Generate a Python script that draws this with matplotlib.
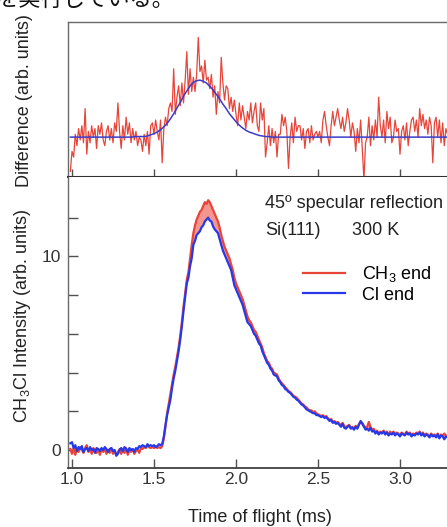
import numpy as np
import matplotlib
matplotlib.use('Agg')
import matplotlib.pyplot as plt

plt.rcParams['font.family'] = ['Liberation Sans', 'DejaVu Sans']
plt.rcParams['mathtext.fontset'] = 'custom'
plt.rcParams['mathtext.rm'] = 'Liberation Sans'
plt.rcParams['mathtext.default'] = 'regular'

# time of flight grid (ms): first sample and sampling step
t_start = 0.99
t_step = 0.01

# CH3Cl intensity, Cl end first (arb. units), one row = 0.1 ms
cl_end = [
    0.35, 0.40, 0.10, 0.25, -0.05, 0.15, 0.05, 0.20, -0.10, 0.05,
    0.10, -0.05, 0.15, 0.00, 0.05, -0.15, 0.10, 0.05, -0.05, 0.10,
    0.00, 0.15, 0.05, -0.10, 0.05, 0.10, -0.05, 0.00, -0.30, -0.20,
    0.00, 0.10, -0.05, 0.15, 0.05, -0.10, 0.10, 0.00, 0.05, -0.10,
    0.10, 0.05, 0.20, 0.15, 0.25, 0.20, 0.15, 0.30, 0.20, 0.25,
    0.20, 0.25, 0.15, 0.20, 0.30, 0.25, 0.30, 0.70, 1.30, 1.80,
    2.20, 2.60, 3.20, 3.70, 4.10, 4.60, 5.10, 5.70, 6.40, 7.20,
    7.90, 8.60, 8.90, 9.50, 9.90, 10.60, 10.80, 11.10, 11.20, 11.30,
    11.50, 11.60, 11.80, 11.90, 12.00, 11.85, 11.80, 11.55, 11.40, 11.30,
    11.20, 10.90, 10.60, 10.30, 10.10, 9.90, 9.70, 9.50, 9.30, 8.90,
    8.50, 8.30, 8.10, 7.90, 7.70, 7.50, 7.20, 6.90, 6.60, 6.50,
    6.40, 6.20, 6.00, 5.90, 5.70, 5.50, 5.40, 5.10, 4.90, 4.70,
    4.50, 4.40, 4.20, 4.10, 3.90, 3.85, 3.80, 3.60, 3.50, 3.35,
    3.30, 3.15, 3.10, 3.00, 2.95, 2.85, 2.75, 2.70, 2.60, 2.55,
    2.45, 2.35, 2.30, 2.20, 2.10, 2.05, 2.00, 1.95, 1.90, 1.90,
    1.80, 1.80, 1.75, 1.70, 1.75, 1.65, 1.70, 1.60, 1.50, 1.55,
    1.40, 1.45, 1.35, 1.40, 1.30, 1.20, 1.35, 1.15, 1.10, 1.20,
    1.25, 1.10, 1.15, 1.05, 1.20, 1.10, 1.30, 1.50, 1.35, 1.20,
    1.05, 1.10, 1.00, 1.15, 0.95, 1.00, 0.85, 0.95, 0.80, 0.90,
    0.85, 0.95, 0.80, 0.90, 0.75, 0.85, 0.80, 0.90, 0.75, 0.85,
    0.80, 0.70, 0.85, 0.80, 0.75, 0.90, 0.80, 0.85, 0.70, 0.80,
    0.75, 0.85, 0.80, 0.90, 0.75, 0.85, 0.70, 0.80, 0.75, 0.65,
    0.80, 0.70, 0.75, 0.65, 0.80, 0.60, 0.75, 0.70, 0.55, 0.70,
    0.65,
]

ch3_end = [
    0.05, -0.20, 0.10, -0.25, 0.05, -0.10, 0.15, 0.00, -0.15, 0.10,
    0.25, -0.10, 0.05, -0.20, 0.10, 0.00, -0.15, 0.05, -0.25, 0.05,
    -0.10, 0.05, -0.20, 0.00, -0.15, 0.10, -0.20, -0.05, -0.25, -0.10,
    0.05, -0.20, 0.00, -0.15, 0.10, -0.25, 0.00, -0.10, 0.05, -0.20,
    -0.05, 0.00, -0.15, 0.10, 0.05, 0.15, 0.10, 0.20, 0.15, 0.10,
    0.15, 0.10, 0.20, 0.10, 0.15, 0.10, 0.20, 0.60, 1.20, 1.90,
    2.40, 2.90, 3.40, 3.90, 4.30, 4.80, 5.30, 5.90, 6.60, 7.40,
    8.10, 8.80, 9.20, 9.90, 10.60, 11.20, 11.60, 11.90, 12.10, 12.30,
    12.40, 12.60, 12.80, 12.70, 12.90, 12.80, 12.60, 12.40, 12.20, 12.00,
    11.80, 11.50, 11.10, 10.80, 10.50, 10.30, 10.10, 9.90, 9.60, 9.30,
    8.90, 8.60, 8.40, 8.20, 8.00, 7.80, 7.50, 7.20, 6.90, 6.70,
    6.60, 6.40, 6.20, 6.10, 5.90, 5.70, 5.50, 5.30, 5.00, 4.80,
    4.60, 4.50, 4.30, 4.20, 4.00, 3.95, 3.90, 3.70, 3.55, 3.45,
    3.35, 3.25, 3.15, 3.05, 3.00, 2.90, 2.80, 2.75, 2.70, 2.60,
    2.50, 2.40, 2.35, 2.25, 2.20, 2.10, 2.05, 2.05, 1.95, 2.00,
    1.90, 1.85, 1.80, 1.75, 1.80, 1.70, 1.75, 1.65, 1.55, 1.60,
    1.45, 1.50, 1.40, 1.45, 1.35, 1.30, 1.40, 1.25, 1.15, 1.25,
    1.30, 1.15, 1.20, 1.10, 1.25, 1.15, 1.35, 1.45, 1.40, 1.25,
    1.15, 1.20, 1.45, 1.20, 1.05, 1.10, 0.90, 1.00, 0.85, 0.95,
    0.90, 1.00, 0.85, 0.95, 0.80, 0.95, 0.85, 0.95, 0.80, 0.90,
    0.85, 0.75, 0.90, 0.85, 0.80, 0.95, 0.85, 0.90, 0.75, 0.85,
    0.80, 0.90, 0.85, 0.95, 0.80, 0.90, 0.75, 0.85, 0.80, 0.70,
    0.85, 0.75, 0.80, 0.70, 0.85, 0.65, 0.80, 0.75, 0.85, 0.75,
    0.70,
]

# difference signal (same time grid)
difference = [
    -0.60, -0.25, -0.35, 0.05, -0.15, 0.15, -0.05, 0.20, -0.10, 0.50,
    -0.30, 0.10, -0.10, 0.20, 0.00, 0.15, -0.20, 0.20, 0.05, 0.25,
    -0.05, -0.15, 0.10, 0.20, -0.05, 0.15, -0.10, 0.25, 0.10, 0.60,
    0.10, -0.20, 0.20, -0.05, 0.35, 0.05, 0.25, -0.10, 0.15, -0.05,
    0.10, -0.15, 0.00, -0.05, -0.25, 0.05, -0.15, 0.10, -0.30, 0.20,
    0.25, 0.05, 0.30, 0.10, -0.05, 0.30, -0.45, 0.15, 0.35, 0.20,
    0.50, 0.60, 0.45, 1.20, 0.40, 0.70, 0.90, 0.55, 0.95, 0.60,
    1.00, 1.50, 0.75, 1.20, 0.80, 1.05, 0.80, 1.10, 1.75, 1.15,
    1.25, 0.95, 1.35, 1.00, 1.05, 0.85, 1.10, 0.70, 0.90, 0.40,
    0.80, 0.60, 1.40, 0.95, 0.65, 0.90, 0.85, 0.50, 0.70, 0.45,
    0.65, 0.40, 0.20, 0.60, 0.30, 0.55, 0.35, 0.15, 0.45, 0.30,
    0.60, 0.25, 0.45, 0.60, 0.20, 0.10, 0.60, 0.30, 0.50, -0.35,
    -0.10, 0.20, -0.15, 0.15, -0.10, 0.10, -0.35, 0.05, 0.05, 0.40,
    0.20, 0.35, 0.10, -0.55, 0.00, 0.25, -0.10, 0.35, 0.10, 0.20,
    0.20, -0.05, 0.15, -0.20, 0.10, 0.15, -0.10, 0.20, -0.05, 0.05,
    0.10, 0.00, 0.10, -0.10, 0.30, 0.45, 0.20, 0.00, -0.15, 0.20,
    0.45, 0.20, 0.35, 0.50, 0.30, 0.15, 0.35, 0.10, 0.25, 0.50,
    0.30, 0.00, 0.25, 0.10, -0.25, 0.15, -0.10, 0.30, -0.20, -0.75,
    -0.10, 0.00, 0.35, -0.15, 0.20, -0.05, 0.30, 0.00, 0.70, 0.20,
    0.00, 0.30, -0.10, 0.45, 0.15, 0.35, -0.10, 0.00, 0.30, 0.10,
    0.15, -0.30, 0.10, 0.20, -0.05, 0.25, -0.15, 0.10, 0.30, 0.35,
    0.10, 0.30, 0.00, 0.50, 0.20, 0.40, 0.15, 0.30, 0.05, 0.35,
    0.20, -0.45, 0.25, 0.35, 0.00, 0.30, -0.10, 0.25, -0.15, 0.15,
    0.05,
]

# fitted peak on the difference
fit_t = [0.99, 1.36, 1.40, 1.44, 1.46, 1.48, 1.50, 1.52, 1.54, 1.56, 1.58,
         1.60, 1.62, 1.64, 1.66, 1.68, 1.70, 1.72, 1.74, 1.76, 1.78, 1.80,
         1.82, 1.84, 1.86, 1.88, 1.90, 1.92, 1.94, 1.96, 1.98, 2.00, 2.02,
         2.04, 2.06, 2.08, 2.10, 2.12, 2.14, 2.16, 2.18, 2.20, 2.22, 3.29]
fit_y = [0.00, 0.00, 0.01, 0.01, 0.02, 0.04, 0.06, 0.09, 0.13, 0.18, 0.24,
         0.32, 0.41, 0.51, 0.61, 0.72, 0.81, 0.90, 0.96, 0.99, 1.00, 0.98,
         0.95, 0.89, 0.83, 0.75, 0.67, 0.58, 0.50, 0.41, 0.34, 0.27, 0.21,
         0.16, 0.12, 0.09, 0.07, 0.05, 0.03, 0.02, 0.01, 0.01, 0.00, 0.00]

t = t_start + t_step * np.arange(len(cl_end))
td = t_start + t_step * np.arange(len(difference))
cl = np.array(cl_end)
ch3 = np.array(ch3_end)

RED = '#e8453a'
BLUE = '#2638e8'
FIT = '#3b3bcc'
SPINE = '#505050'

W, H = 447, 527
fig = plt.figure(figsize=(W / 100, H / 100), dpi=100)

def box(left, top, bottom):
    return [left / W, 1 - bottom / H, 1 - left / W, (bottom - top) / H]

ax1 = fig.add_axes(box(68, 22, 177))
ax2 = fig.add_axes(box(68, 177, 468))

xlim = (0.9756, 3.2866)

# top panel: difference
ax1.plot(td, difference, color=RED, lw=0.9)
ax1.plot(fit_t, fit_y, color=FIT, lw=1.1)
ax1.set_xlim(*xlim)
ax1.set_ylim(-0.70, 2.02)
ax1.set_xticks([1.0, 1.5, 2.0, 2.5, 3.0])
ax1.tick_params(axis='x', direction='in', length=6, width=1, color=SPINE,
                labelbottom=False)
ax1.set_yticks([])
ax1.spines['right'].set_visible(False)
for s in ('left', 'top'):
    ax1.spines[s].set_color('#6a6a6a')
    ax1.spines[s].set_linewidth(1.0)
ax1.spines['bottom'].set_color('#303030')
ax1.spines['bottom'].set_linewidth(1.5)

# bottom panel: intensities
ax2.fill_between(t, cl, ch3, where=ch3 > cl, interpolate=True,
                 color='#f07c72', lw=0, alpha=0.8)
ax2.plot(t, ch3, color=RED, lw=1.6, label='CH$_3$ end')
ax2.plot(t, cl, color=BLUE, lw=1.6, label='Cl end')
ax2.set_xlim(*xlim)
ax2.set_ylim(-0.93, 14.1)
ax2.set_xticks([1.0, 1.5, 2.0, 2.5, 3.0])
ax2.set_xticklabels(['1.0', '1.5', '2.0', '2.5', '3.0'])
ax2.set_yticks([0, 10])
ax2.set_yticks([2, 4, 6, 8, 12], minor=True)
ax2.tick_params(axis='x', direction='in', length=6.5, width=1, color=SPINE,
                labelsize=12.5, pad=3, labelcolor='#333333')
ax2.tick_params(axis='y', which='both', direction='in', length=7, width=1,
                color=SPINE, labelsize=12.5, pad=5, labelcolor='#333333')
ax2.spines['right'].set_visible(False)
ax2.spines['top'].set_visible(False)
ax2.spines['left'].set_color('#6a6a6a')
ax2.spines['left'].set_linewidth(1.0)
ax2.spines['bottom'].set_color('#404040')
ax2.spines['bottom'].set_linewidth(1.3)

ax2.legend(loc='upper left', bbox_to_anchor=(303 / W, 1 - 264 / H),
           bbox_transform=fig.transFigure, frameon=False, fontsize=13,
           handlelength=2.35, handletextpad=0.9, labelspacing=0.15,
           borderpad=0, borderaxespad=0)

txt = dict(fontsize=13, color='#222222', va='center', ha='left')
fig.text(265 / W, 1 - 203 / H, '45º specular reflection', **txt)
fig.text(265 / W, 1 - 230 / H, 'Si(111)', **txt)
fig.text(352 / W, 1 - 230 / H, '300 K', **txt)

lab = dict(fontsize=13, color='#222222', va='center', ha='center', rotation=90)
fig.text(25 / W, 1 - 101 / H, 'Difference (arb. units)', **lab)
fig.text(23 / W, 1 - 316 / H, 'CH$_3$Cl Intensity (arb. units)', **lab)
fig.text(260 / W, 1 - 517 / H, 'Time of flight (ms)', fontsize=13,
         color='#222222', va='center', ha='center')

# caption line above the figure, cut at the top edge as in the source
fig.text(-3 / W, 1 - 0 / H, 'を実行している。', fontsize=16, color='#111111',
         family=['Noto Sans CJK JP', 'DejaVu Sans'], va='center', ha='left')

fig.savefig('out.png', dpi=100)
